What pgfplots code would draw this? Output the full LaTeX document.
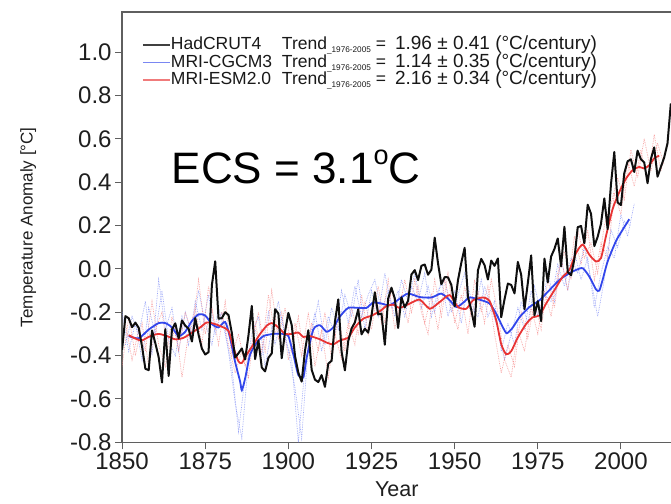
\documentclass[border=0pt]{standalone}
\usepackage{pgfplots}
\pgfplotsset{compat=1.18}
\usepackage{pgfplotstable}
\usepackage{fontspec}
\setmainfont{Liberation Sans}
\definecolor{hadc}{RGB}{15,15,15}
\definecolor{cgcm}{RGB}{50,70,235}
\definecolor{esm}{RGB}{232,52,52}
\definecolor{cgcmens}{RGB}{120,135,245}
\definecolor{esmens}{RGB}{245,125,125}
\definecolor{axgray}{RGB}{95,95,95}
\newcommand\sub{\raisebox{-3pt}{\fontsize{8.2}{8}\selectfont\_1976-2005}}
\newcommand\num[1]{{\fontsize{19}{19}\selectfont #1}}

\pgfplotstableread{
year val
1850 -0.373
1851 -0.218
1852 -0.228
1853 -0.269
1854 -0.248
1855 -0.272
1856 -0.358
1857 -0.461
1858 -0.467
1859 -0.284
1860 -0.343
1861 -0.407
1862 -0.524
1863 -0.278
1864 -0.494
1865 -0.279
1866 -0.251
1867 -0.321
1868 -0.238
1869 -0.262
1870 -0.276
1871 -0.335
1872 -0.227
1873 -0.304
1874 -0.368
1875 -0.395
1876 -0.384
1877 -0.075
1878 0.035
1879 -0.230
1880 -0.227
1881 -0.200
1882 -0.213
1883 -0.296
1884 -0.409
1885 -0.389
1886 -0.367
1887 -0.418
1888 -0.307
1889 -0.171
1890 -0.416
1891 -0.330
1892 -0.455
1893 -0.473
1894 -0.410
1895 -0.390
1896 -0.186
1897 -0.206
1898 -0.412
1899 -0.289
1900 -0.203
1901 -0.259
1902 -0.402
1903 -0.479
1904 -0.520
1905 -0.377
1906 -0.283
1907 -0.465
1908 -0.511
1909 -0.522
1910 -0.490
1911 -0.544
1912 -0.437
1913 -0.424
1914 -0.244
1915 -0.141
1916 -0.383
1917 -0.468
1918 -0.333
1919 -0.275
1920 -0.247
1921 -0.187
1922 -0.302
1923 -0.276
1924 -0.294
1925 -0.215
1926 -0.108
1927 -0.210
1928 -0.206
1929 -0.350
1930 -0.137
1931 -0.087
1932 -0.137
1933 -0.273
1934 -0.131
1935 -0.178
1936 -0.147
1937 -0.026
1938 -0.006
1939 -0.052
1940 0.014
1941 0.020
1942 -0.027
1943 -0.004
1944 0.144
1945 0.025
1946 -0.071
1947 -0.038
1948 -0.039
1949 -0.074
1950 -0.173
1951 -0.052
1952 0.028
1953 0.097
1954 -0.129
1955 -0.190
1956 -0.267
1957 -0.007
1958 0.046
1959 0.017
1960 -0.049
1961 0.038
1962 0.014
1963 0.048
1964 -0.223
1965 -0.140
1966 -0.068
1967 -0.074
1968 -0.113
1969 0.032
1970 -0.027
1971 -0.186
1972 -0.065
1973 0.062
1974 -0.214
1975 -0.149
1976 -0.241
1977 0.047
1978 -0.062
1979 0.057
1980 0.092
1981 0.140
1982 0.011
1983 0.194
1984 -0.014
1985 -0.030
1986 0.045
1987 0.192
1988 0.198
1989 0.118
1990 0.296
1991 0.254
1992 0.105
1993 0.148
1994 0.208
1995 0.325
1996 0.183
1997 0.390
1998 0.539
1999 0.306
2000 0.294
2001 0.441
2002 0.496
2003 0.505
2004 0.447
2005 0.545
2006 0.506
2007 0.491
2008 0.395
2009 0.506
2010 0.560
2011 0.425
2012 0.470
2013 0.514
2014 0.579
2015 0.763
}\hadcrut

\pgfplotstableread{
year val
1852 -0.31
1855 -0.32
1858 -0.28
1861 -0.25
1863 -0.25
1865 -0.27
1867 -0.31
1869 -0.29
1871 -0.24
1873 -0.21
1875 -0.215
1877 -0.255
1879 -0.27
1881 -0.245
1882.5 -0.32
1884 -0.43
1885.5 -0.52
1886 -0.56
1887 -0.505
1888.5 -0.395
1890.5 -0.34
1892.5 -0.31
1895.5 -0.30
1898.5 -0.30
1900 -0.31
1901.5 -0.395
1903 -0.49
1904.5 -0.50
1905.5 -0.41
1907.5 -0.28
1909.5 -0.26
1911.5 -0.29
1913.5 -0.27
1915.5 -0.22
1918 -0.18
1921 -0.18
1923.5 -0.18
1925.5 -0.155
1928 -0.16
1930.5 -0.168
1933.5 -0.137
1936 -0.114
1939.5 -0.13
1943 -0.132
1946 -0.114
1948.5 -0.145
1950.5 -0.176
1952.5 -0.157
1954.5 -0.132
1957.5 -0.142
1960.5 -0.16
1962.5 -0.207
1964.5 -0.27
1965.7 -0.297
1967.5 -0.27
1969.5 -0.223
1972.5 -0.176
1975.5 -0.145
1978.5 -0.098
1981.5 -0.051
1984.5 -0.02
1986.5 -0.005
1988.5 0.003
1990.5 -0.036
1992.5 -0.095
1993.5 -0.10
1994.5 -0.05
1996 0.034
1998.5 0.128
2000.5 0.18
2002.5 0.229
}\cgcmmean

\pgfplotstableread{
year val
1852 -0.306
1854.5 -0.325
1856 -0.33
1858.5 -0.31
1861 -0.30
1863.5 -0.31
1866 -0.325
1868.5 -0.318
1871 -0.294
1873.5 -0.27
1875.5 -0.247
1878 -0.255
1880 -0.267
1882 -0.286
1883.5 -0.364
1885 -0.427
1886 -0.434
1887.5 -0.395
1889.5 -0.348
1891.5 -0.30
1893.5 -0.262
1895 -0.25
1897 -0.27
1899 -0.30
1901 -0.30
1903 -0.294
1904.5 -0.314
1906.5 -0.31
1909.5 -0.325
1911.5 -0.34
1913.5 -0.348
1915.5 -0.33
1918 -0.317
1920 -0.27
1922.5 -0.23
1925 -0.216
1927.5 -0.195
1929.5 -0.172
1931.5 -0.165
1933.5 -0.18
1936.5 -0.16
1939.5 -0.142
1942.5 -0.184
1945.5 -0.153
1948.5 -0.121
1951 -0.176
1953.5 -0.184
1955.5 -0.145
1958.5 -0.132
1960.5 -0.148
1962.5 -0.238
1964 -0.347
1965.5 -0.394
1967 -0.38
1969 -0.316
1971.5 -0.254
1973.5 -0.223
1975.5 -0.215
1977.5 -0.16
1980 -0.098
1982.5 -0.036
1984.5 -0.005
1986.5 0.073
1988.5 0.112
1990.5 0.065
1992.5 0.034
1994 0.05
1995.5 0.151
1997.5 0.276
1999.5 0.354
2001.5 0.416
2003.5 0.455
2005.5 0.47
2007 0.463
2008.5 0.478
2010 0.51
2011.5 0.522
}\esmmean

\pgfplotstableread{
year val
1850 -0.20
1852 -0.38
1854 -0.25
1856 -0.42
1858 -0.18
1860 -0.30
1862 -0.10
1864 -0.33
1866 -0.40
1868 -0.22
1870 -0.35
1872 -0.15
1874 -0.28
1876 -0.12
1878 -0.30
1880 -0.20
1882 -0.38
1884 -0.62
1886 -0.78
1888 -0.42
1890 -0.28
1892 -0.40
1894 -0.20
1896 -0.35
1898 -0.22
1900 -0.38
1902 -0.55
1904 -0.78
1906 -0.35
1908 -0.20
1910 -0.38
1912 -0.22
1914 -0.30
1916 -0.10
1918 -0.25
1920 -0.08
1922 -0.22
1924 -0.12
1926 -0.05
1928 -0.20
1930 -0.10
1932 -0.22
1934 -0.05
1936 -0.15
1938 -0.02
1940 -0.18
1942 -0.08
1944 -0.20
1946 -0.05
1948 -0.22
1950 -0.10
1952 -0.25
1954 -0.08
1956 -0.20
1958 -0.05
1960 -0.22
1962 -0.15
1964 -0.38
1966 -0.25
1968 -0.35
1970 -0.15
1972 -0.25
1974 -0.08
1976 -0.20
1978 -0.02
1980 -0.15
1982 0.05
1984 -0.10
1986 0.08
1988 -0.05
1990 0.05
1992 -0.18
1994 -0.02
1996 0.10
1998 0.05
2000 0.25
2002 0.15
2004 0.30
}\cgcmA

\pgfplotstableread{
year val
1851 -0.35
1853 -0.22
1855 -0.30
1857 -0.15
1859 -0.40
1861 -0.05
1863 -0.28
1865 -0.18
1867 -0.38
1869 -0.20
1871 -0.30
1873 -0.10
1875 -0.25
1877 -0.35
1879 -0.18
1881 -0.30
1883 -0.45
1885 -0.75
1887 -0.50
1889 -0.30
1891 -0.22
1893 -0.45
1895 -0.28
1897 -0.15
1899 -0.32
1901 -0.42
1903 -0.80
1905 -0.45
1907 -0.30
1909 -0.15
1911 -0.35
1913 -0.18
1915 -0.28
1917 -0.12
1919 -0.22
1921 -0.05
1923 -0.28
1925 -0.10
1927 -0.22
1929 -0.02
1931 -0.18
1933 -0.10
1935 -0.22
1937 -0.08
1939 -0.15
1941 -0.02
1943 -0.22
1945 -0.10
1947 -0.05
1949 -0.20
1951 -0.12
1953 -0.02
1955 -0.18
1957 -0.22
1959 -0.08
1961 -0.18
1963 -0.28
1965 -0.42
1967 -0.30
1969 -0.18
1971 -0.28
1973 -0.10
1975 -0.22
1977 -0.12
1979 -0.15
1981 0.02
1983 -0.08
1985 0.05
1987 -0.02
1989 0.10
1991 -0.05
1993 -0.22
1995 -0.05
1997 0.18
1999 0.10
2001 0.22
2003 0.20
}\cgcmB

\pgfplotstableread{
year val
1850 -0.45
1852 -0.22
1854 -0.40
1856 -0.25
1858 -0.45
1860 -0.28
1862 -0.20
1864 -0.42
1866 -0.25
1868 -0.50
1870 -0.30
1872 -0.18
1874 -0.35
1876 -0.08
1878 -0.28
1880 -0.20
1882 -0.35
1884 -0.48
1886 -0.38
1888 -0.50
1890 -0.25
1892 -0.38
1894 -0.12
1896 -0.30
1898 -0.20
1900 -0.42
1902 -0.25
1904 -0.40
1906 -0.20
1908 -0.45
1910 -0.28
1912 -0.50
1914 -0.30
1916 -0.42
1918 -0.25
1920 -0.35
1922 -0.12
1924 -0.30
1926 -0.10
1928 -0.25
1930 -0.05
1932 -0.28
1934 -0.12
1936 -0.25
1938 -0.05
1940 -0.20
1942 -0.30
1944 -0.05
1946 -0.22
1948 -0.02
1950 -0.25
1952 -0.12
1954 -0.30
1956 -0.05
1958 -0.20
1960 -0.08
1962 -0.30
1964 -0.48
1966 -0.35
1968 -0.45
1970 -0.20
1972 -0.32
1974 -0.15
1976 -0.28
1978 -0.05
1980 -0.18
1982 0.05
1984 -0.10
1986 0.15
1988 0.02
1990 0.18
1992 -0.05
1994 0.12
1996 0.05
1998 0.35
2000 0.25
2002 0.50
2004 0.38
2006 0.55
2008 0.40
2010 0.62
2012 0.45
2014 0.58
}\esmA

\pgfplotstableread{
year val
1851 -0.25
1853 -0.42
1855 -0.28
1857 -0.38
1859 -0.15
1861 -0.35
1863 -0.45
1865 -0.22
1867 -0.38
1869 -0.20
1871 -0.30
1873 -0.05
1875 -0.30
1877 -0.18
1879 -0.35
1881 -0.15
1883 -0.40
1885 -0.30
1887 -0.45
1889 -0.35
1891 -0.20
1893 -0.38
1895 -0.10
1897 -0.32
1899 -0.18
1901 -0.38
1903 -0.22
1905 -0.45
1907 -0.25
1909 -0.38
1911 -0.20
1913 -0.42
1915 -0.22
1917 -0.38
1919 -0.18
1921 -0.30
1923 -0.15
1925 -0.28
1927 -0.08
1929 -0.25
1931 -0.10
1933 -0.22
1935 -0.05
1937 -0.20
1939 -0.08
1941 -0.25
1943 -0.12
1945 -0.28
1947 -0.05
1949 -0.18
1951 -0.28
1953 -0.08
1955 -0.22
1957 -0.10
1959 -0.25
1961 -0.05
1963 -0.20
1965 -0.42
1967 -0.50
1969 -0.28
1971 -0.38
1973 -0.18
1975 -0.30
1977 -0.10
1979 -0.22
1981 -0.02
1983 0.08
1985 -0.05
1987 0.18
1989 0.05
1991 0.12
1993 -0.02
1995 0.20
1997 0.30
1999 0.42
2001 0.32
2003 0.55
2005 0.42
2007 0.60
2009 0.45
2011 0.58
2013 0.48
}\esmB

\begin{document}
\begin{tikzpicture}
\begin{axis}[
  scale only axis, width=549pt, height=430pt,
  xmin=1850, xmax=2015.2, ymin=-0.8, ymax=1.1846,
  xtick={1850,1875,1900,1925,1950,1975,2000},
  ytick={-0.8,-0.6,-0.4,-0.2,0,0.2,0.4,0.6,0.8,1.0},
  /pgf/number format/assume math mode=true,
  xticklabel style={/pgf/number format/1000 sep={}},
  yticklabel style={/pgf/number format/.cd, fixed, fixed zerofill, precision=1},
  tick label style={font=\fontsize{24}{24}\selectfont, text=black!88},
  xtick pos=bottom, ytick pos=left,
  tick align=outside, major tick length=7pt,
  every tick/.style={axgray, line width=1pt},
  axis line style={axgray, line width=1.3pt},
  xlabel={Year}, ylabel={Temperature Anomaly [°C]},
  xlabel shift=5pt, ylabel shift=27pt,
  xlabel style={font=\fontsize{21.5}{21.5}\selectfont, text=black!88},
  ylabel style={font=\fontsize{17}{17}\selectfont, text=black!88},
  legend cell align=left,
  legend image code/.code={\draw[#1] (0pt,0pt) -- (27pt,0pt);},
  legend style={at={(rel axis cs:0,1)}, anchor=north west, xshift=20pt, yshift=-24pt,
    draw=none, fill=none, inner sep=0pt, row sep=0pt,
    font=\fontsize{17.5}{17.5}\selectfont, text=black!90,
    nodes={inner sep=0.5pt, text height=13pt, text depth=3.5pt}},
]
\addlegendimage{black!75, line width=1.1pt}
\addlegendentry{\makebox[111pt][l]{HadCRUT4}Trend\sub\ =\hspace{9pt}\num{1.96 ± 0.41 (°C/century)}}
\addlegendimage{cgcm!65, line width=1.1pt}
\addlegendentry{\makebox[111pt][l]{MRI-CGCM3}Trend\sub\ =\hspace{9pt}\num{1.14 ± 0.35 (°C/century)}}
\addlegendimage{esm!65, line width=1.1pt}
\addlegendentry{\makebox[111pt][l]{MRI-ESM2.0}Trend\sub\ =\hspace{9pt}\num{2.16 ± 0.34 (°C/century)}}

\addplot[forget plot, cgcmens, densely dotted, line width=0.7pt, opacity=0.75] table[x=year,y=val] {\cgcmA};
\addplot[forget plot, esmens, densely dotted, line width=0.7pt, opacity=0.75] table[x=year,y=val] {\esmA};
\addplot[forget plot, cgcmens, densely dotted, line width=0.7pt, opacity=0.75] table[x=year,y=val] {\cgcmB};
\addplot[forget plot, esmens, densely dotted, line width=0.7pt, opacity=0.75] table[x=year,y=val] {\esmB};
\addplot[forget plot, cgcm, line width=1.8pt, smooth, tension=0.4] table[x=year,y=val] {\cgcmmean};
\addplot[forget plot, esm, line width=1.8pt, smooth, tension=0.4] table[x=year,y=val] {\esmmean};
\addplot[forget plot, hadc, line width=2pt, line join=round] table[x=year,y=val] {\hadcrut};

\node[anchor=base west, inner sep=0pt, font=\fontsize{44}{44}\selectfont] at (axis cs:1864.85,0.3955)
  {ECS = 3.1\raisebox{19pt}{\fontsize{27}{27}\selectfont o}C};
\end{axis}
\pgfresetboundingbox
\path[use as bounding box] (-122pt,-61pt) rectangle (548.5pt,442pt);
\end{tikzpicture}
\end{document}
